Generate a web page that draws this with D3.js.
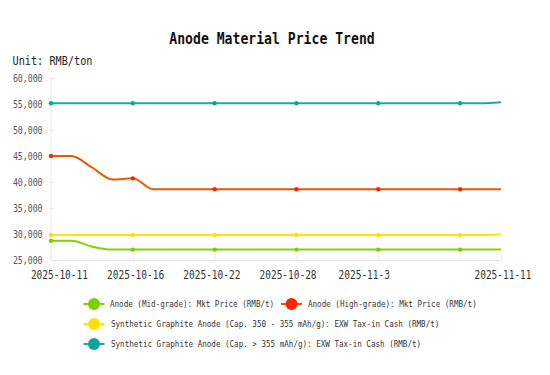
<!DOCTYPE html>
<html>
<head>
<meta charset="utf-8">
<script src="https://cdn.jsdelivr.net/npm/d3@7/dist/d3.min.js"></script>
<style>
  html, body { margin: 0; padding: 0; background: #fff; }
  svg { display: block; }
  text { font-family: "DejaVu Sans Mono", "Liberation Mono", monospace; }
</style>
</head>
<body>
<svg id="chart" width="550" height="375"></svg>
<script>
// ---- data ----
const dates = ["2025-10-11","2025-10-13","2025-10-14","2025-10-15","2025-10-16","2025-10-17",
  "2025-10-20","2025-10-21","2025-10-22","2025-10-23","2025-10-24","2025-10-27","2025-10-28",
  "2025-10-29","2025-10-30","2025-10-31","2025-11-3","2025-11-4","2025-11-5","2025-11-6",
  "2025-11-7","2025-11-10","2025-11-11"];
const midGrade  = [28700,28700,27600,27000,27000,27000,27000,27000,27000,27000,27000,27000,
  27000,27000,27000,27000,27000,27000,27000,27000,27000,27000,27000];
const highGrade = [45000,45000,42800,40500,40700,38600,38600,38600,38600,38600,38600,38600,
  38600,38600,38600,38600,38600,38600,38600,38600,38600,38600,38600];
const synth350  = [29800,29800,29800,29800,29800,29800,29800,29800,29800,29800,29800,29800,
  29800,29800,29800,29800,29800,29800,29800,29800,29800,29800,29900];
const synth355  = [55150,55150,55150,55150,55150,55150,55150,55150,55150,55150,55150,55150,
  55150,55150,55150,55150,55150,55150,55150,55150,55150,55150,55350];
const seriesNames = [
  "Anode (Mid-grade): Mkt Price (RMB/t)",
  "Anode (High-grade): Mkt Price (RMB/t)",
  "Synthetic Graphite Anode (Cap. 350 - 355 mAh/g): EXW Tax-in Cash (RMB/t)",
  "Synthetic Graphite Anode (Cap. > 355 mAh/g): EXW Tax-in Cash (RMB/t)"
];
const yTicks = [25000,30000,35000,40000,45000,50000,55000,60000];
const xLabelIdx = [0,4,8,12,16,22];
const symbolIdx = [0,4,8,12,16,20];
const titleText = "Anode Material Price Trend";
const unitText = "Unit: RMB/ton";

// ---- styles ----
const lineColors = ["#86d200","#ec5a00","#ffe600","#1aa8ab"];
const dotColors  = ["#7ccf00","#ff2400","#ffe000","#10a39d"];

const svg = d3.select("#chart");
const plotL = 51, plotR = 501, plotT = 78, plotB = 260;

const x = d3.scaleLinear().domain([0, dates.length - 1]).range([plotL, plotR]);
const y = d3.scaleLinear().domain([25000, 60000]).range([plotB, plotT]);

function fit(sel, charW) {
  sel.each(function() {
    const n = this.textContent.length;
    this.setAttribute("textLength", n * charW);
    this.setAttribute("lengthAdjust", "spacingAndGlyphs");
  });
}

// title
svg.append("text").attr("x", 272).attr("y", 44).attr("text-anchor", "middle")
  .attr("font-size", 16).attr("font-weight", "bold").attr("fill", "#111")
  .text(titleText).call(fit, 7.9);
// unit
svg.append("text").attr("x", 12.5).attr("y", 65).attr("font-size", 12).attr("fill", "#222")
  .text(unitText).call(fit, 6.15);

// axes lines
svg.append("line").attr("x1", plotL).attr("x2", plotL).attr("y1", y(60000)).attr("y2", plotB)
  .attr("stroke", "#e8e8e8").attr("stroke-width", 1);
svg.append("line").attr("x1", plotL).attr("x2", plotR).attr("y1", plotB + 0.5).attr("y2", plotB + 0.5)
  .attr("stroke", "#e2e2e2").attr("stroke-width", 1);

// y ticks
const yAxis = svg.append("g");
yAxis.selectAll("line").data(yTicks).join("line")
  .attr("x1", plotL).attr("x2", plotL + 3).attr("y1", d => y(d) + 0.5).attr("y2", d => y(d) + 0.5)
  .attr("stroke", "#e6e6e6");
yAxis.selectAll("text").data(yTicks).join("text")
  .attr("x", 42.5).attr("y", d => y(d) + 3.5).attr("text-anchor", "end")
  .attr("font-size", 10).attr("fill", "#555")
  .text(d => d3.format(",")(d)).call(fit, 4.93);

// x ticks
const xAxis = svg.append("g");
xAxis.selectAll("line").data(xLabelIdx.concat([20])).join("line")
  .attr("x1", d => x(d) + 0.5).attr("x2", d => x(d) + 0.5).attr("y1", plotB - 8).attr("y2", plotB)
  .attr("stroke", "#ececec");
const labelPos = d3.scaleLinear().domain([0, 16]).range([x(0) + 8.4, x(16) - 14]);
xAxis.selectAll("text").data(xLabelIdx).join("text")
  .attr("x", d => d === dates.length - 1 ? x(d) + 2 : labelPos(d))
  .attr("y", 278.5).attr("text-anchor", "middle")
  .attr("font-size", 12).attr("fill", "#333")
  .text(d => dates[d]).call(fit, 5.7);

// series
const allSeries = [midGrade, highGrade, synth350, synth355];
const line = d3.line().x((d, i) => x(i)).y(d => y(d)).curve(d3.curveMonotoneX);
const drawOrder = [3, 1, 2, 0];
drawOrder.forEach(s => {
  const g = svg.append("g");
  g.append("path").datum(allSeries[s]).attr("d", line)
    .attr("fill", "none").attr("stroke", lineColors[s]).attr("stroke-width", 2);
  g.selectAll("circle").data(symbolIdx).join("circle")
    .attr("cx", d => x(d)).attr("cy", d => y(allSeries[s][d])).attr("r", 2.2)
    .attr("fill", dotColors[s]);
});

// legend
const legendPos = [
  {ix: 94, tx: 110, cy: 304},
  {ix: 291.5, tx: 308, cy: 304},
  {ix: 94, tx: 111, cy: 324},
  {ix: 94, tx: 111, cy: 344}
];
const lg = svg.append("g");
seriesNames.forEach((name, s) => {
  const p = legendPos[s];
  lg.append("line").attr("x1", p.ix - 10.5).attr("x2", p.ix + 10.5).attr("y1", p.cy).attr("y2", p.cy)
    .attr("stroke", lineColors[s]).attr("stroke-width", 2);
  lg.append("circle").attr("cx", p.ix).attr("cy", p.cy).attr("r", 6).attr("fill", dotColors[s]);
  lg.append("text").attr("x", p.tx).attr("y", p.cy + 3.3).attr("font-size", 9).attr("fill", "#333")
    .text(name).call(fit, 4.56);
});
</script>
</body>
</html>
